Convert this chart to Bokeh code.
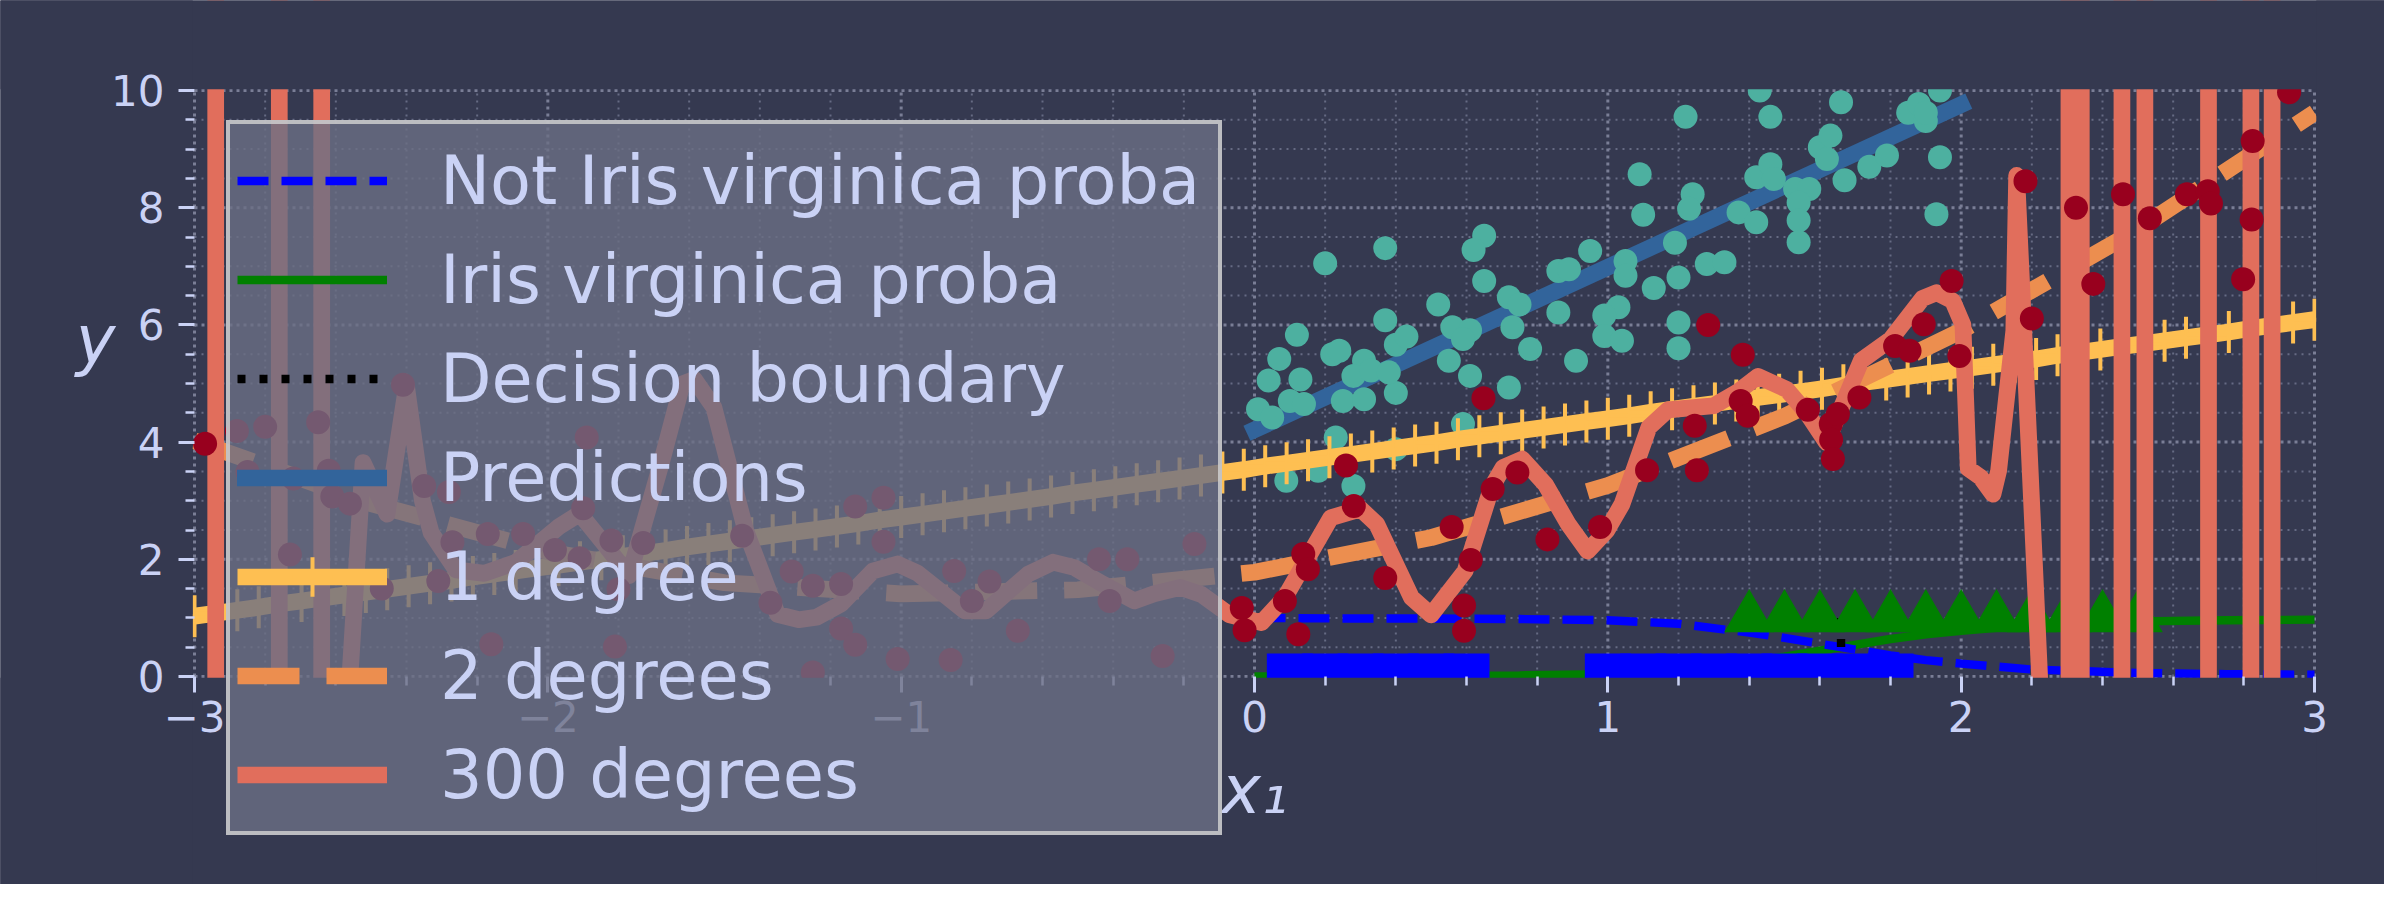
import numpy as np
from bokeh.plotting import figure
from bokeh.models import Range1d, FixedTicker, Legend, LegendItem, Label
from bokeh.embed import file_html
from bokeh.resources import INLINE

BG = "#353950"
FG = "#cad2f5"
FONT = "DejaVu Sans"

# --- logistic regression on petal width (iris) ---
proba_x = [0.0, 0.25, 0.5, 0.75, 1.0, 1.2, 1.4, 1.5, 1.6, 1.66, 1.8, 1.9, 2.0, 2.2, 2.5, 2.75, 3.0]
proba_virginica = [0.0, 0.01, 0.01, 0.02, 0.04, 0.10, 0.25, 0.34, 0.44, 0.50, 0.64, 0.72, 0.78, 0.88, 0.94, 0.96, 0.97]
proba_not_virginica = [1.0, 0.99, 0.99, 0.98, 0.96, 0.90, 0.75, 0.66, 0.56, 0.50, 0.36, 0.28, 0.22, 0.12, 0.06, 0.04, 0.03]
decision_boundary = 1.66
not_virginica_x = [0.1, 0.2, 0.3, 0.4, 0.5, 0.6, 1.0, 1.1, 1.2, 1.3, 1.4, 1.5, 1.6, 1.7, 1.8]
virginica_x = [1.4, 1.5, 1.6, 1.7, 1.8, 1.9, 2.0, 2.1, 2.2, 2.3, 2.4, 2.5]

# --- linear regression data + predictions ---
lin_x = [1.22, 1.09, 1.10, 1.24, 1.23, 1.19, 1.20, 1.13, 1.20, 1.20, 1.05, 1.05, 1.03, 0.99, 0.99,
         1.04, 0.95, 0.86, 0.89, 0.86, 0.91, 0.78, 0.73, 0.72, 0.75, 0.65, 0.65, 0.62, 0.52, 0.56,
         0.61, 0.59, 0.55, 0.37, 0.37, 0.40, 0.43, 0.20, 0.12, 0.07, 0.22, 0.24, 0.31,
         0.61, 0.72, 0.01, 0.05, 0.04, 0.13, 0.10, 0.14, 0.25, 0.31, 0.40, 0.28, 0.33, 0.38,
         0.59, 0.23, 1.28, 1.33,
         1.43, 1.46, 1.66, 1.94, 1.42, 1.46, 1.47, 1.53, 1.57, 1.54, 1.54, 1.54, 1.37, 1.42,
         1.60, 1.63, 1.62, 1.67, 1.74, 1.79, 1.85, 1.88, 1.90, 1.90, 1.94, 1.93,
         0.09, 0.18, 0.28, 0.40]
lin_y = [9.55, 8.57, 7.88, 8.23, 7.98, 7.40, 6.81, 6.63, 6.04, 5.60, 7.09, 6.84, 6.30, 6.16, 5.81,
         5.73, 7.26, 6.92, 6.95, 6.21, 5.39, 5.59, 5.96, 6.47, 6.35, 6.75, 7.52, 7.28, 6.35, 5.96,
         5.91, 5.76, 5.39, 7.31, 6.08, 5.66, 5.80, 7.05, 5.83, 5.42, 5.50, 5.56, 5.39,
         5.13, 4.93, 4.56, 4.42, 5.05, 5.07, 4.70, 4.65, 4.70, 4.73, 4.84, 5.13, 5.22, 5.19,
         4.31, 4.08, 7.04, 7.07,
         10.0, 9.55, 9.80, 10.0, 8.52, 8.74, 8.49, 8.32, 8.32, 8.09, 7.78, 7.41, 7.92, 7.75,
         9.03, 9.23, 8.83, 8.47, 8.70, 8.89, 9.62, 9.77, 9.48, 9.62, 8.86, 7.89,
         3.34, 3.51, 3.25, 3.88]
pred_x = [0.0, 2.0]
pred_y = [4.21, 9.76]

# --- polynomial regression data ---
quad_x = [-2.97, -2.88, -2.80, -2.65, -2.85, -2.72, -2.62, -2.61, -2.56, -2.41, -2.73, -2.47, -2.35,
          -2.28, -2.31, -2.27, -2.17, -2.07, -1.98, -1.91, -1.90, -1.89, -1.82, -1.73, -1.80, -2.16,
          -1.81, -1.45, -1.37, -1.31, -1.25, -1.17, -1.17, -1.13, -1.13, -1.05, -1.05, -1.25, -1.01,
          -0.86, -0.85, -0.75, -0.80, -0.67, -0.44, -0.36, -0.41, -0.26, -0.17,
          -0.036, -0.028, 0.086, 0.124, 0.138, 0.151, 0.259, 0.281, 0.370, 0.558, 0.612, 0.593,
          0.593, 0.648, 0.674, 0.744, 0.829, 0.978, 1.111, 1.246, 1.252, 1.382, 1.376, 1.396,
          1.284, 1.566, 1.631, 1.651, 1.632, 1.637, 1.712, 1.813, 1.854, 1.894, 1.973, 1.995,
          2.20, 2.374, 2.182, 2.325, 2.458, 2.534, 2.639, 2.698, 2.707, 2.825, 2.822, 2.798, 2.928]
quad_y = [3.97, 4.19, 4.26, 4.34, 3.49, 3.38, 3.51, 3.07, 2.95, 4.98, 2.08, 1.50, 3.25,
          3.15, 1.63, 2.29, 2.43, 2.43, 2.16, 2.02, 2.87, 4.08, 2.32, 2.28, 1.49, 0.55,
          0.51, 2.40, 1.26, 1.79, 1.55, 1.58, 0.82, 0.54, 2.90, 3.05, 2.30, 0.07, 0.30,
          0.28, 1.80, 1.62, 1.29, 0.78, 2.00, 2.00, 1.29, 0.35, 2.26,
          1.17, 0.79, 1.29, 0.72, 2.09, 1.83, 3.60, 2.91, 1.68, 2.55, 1.99, 1.21,
          0.78, 4.75, 3.20, 3.48, 2.34, 2.55, 3.52, 4.28, 3.52, 5.49, 4.70, 4.45,
          6.00, 4.55, 4.31, 4.48, 4.04, 3.71, 4.76, 5.64, 5.56, 6.01, 6.75, 5.47,
          6.11, 6.70, 8.45, 8.00, 8.23, 7.82, 8.23, 8.28, 8.07, 9.14, 7.80, 6.78, 9.97]

x_new = np.linspace(-3, 3, 100)
deg1_y = [1.03, 1.08, 1.13, 1.18, 1.24, 1.29, 1.34, 1.39, 1.44, 1.49,
          1.54, 1.59, 1.64, 1.70, 1.75, 1.80, 1.85, 1.90, 1.95, 2.00,
          2.05, 2.10, 2.15, 2.21, 2.26, 2.31, 2.36, 2.41, 2.46, 2.51,
          2.56, 2.61, 2.67, 2.72, 2.77, 2.82, 2.87, 2.92, 2.97, 3.02,
          3.07, 3.13, 3.18, 3.23, 3.28, 3.33, 3.38, 3.43, 3.48, 3.53,
          3.59, 3.64, 3.69, 3.74, 3.79, 3.84, 3.89, 3.94, 3.99, 4.05,
          4.10, 4.15, 4.20, 4.25, 4.30, 4.35, 4.40, 4.45, 4.51, 4.56,
          4.61, 4.66, 4.71, 4.76, 4.81, 4.86, 4.91, 4.97, 5.02, 5.07,
          5.12, 5.17, 5.22, 5.27, 5.32, 5.37, 5.42, 5.48, 5.53, 5.58,
          5.63, 5.68, 5.73, 5.78, 5.83, 5.88, 5.94, 5.99, 6.04, 6.09]

deg2_x = [-3.0, -2.5, -2.0, -1.5, -1.0, -0.5, 0.0, 0.5, 1.0, 1.5, 2.0, 2.5, 3.0]
deg2_y = [4.02, 2.95, 2.13, 1.60, 1.41, 1.48, 1.78, 2.37, 3.26, 4.44, 5.90, 7.63, 9.62]

deg300_x = [-2.94, -2.94, -2.76, -2.76, -2.64, -2.64, -2.575, -2.56, -2.523, -2.455, -2.40, -2.355, -2.33,
            -2.26, -2.18, -2.09, -1.97, -1.91, -1.84, -1.77, -1.68, -1.62, -1.585, -1.53, -1.44, -1.35,
            -1.29, -1.24, -1.17, -1.08, -1.01, -0.955, -0.82, -0.76, -0.64, -0.57, -0.51, -0.43, -0.34,
            -0.285, -0.21, -0.15, -0.07, 0.02, 0.086, 0.151, 0.216, 0.30, 0.346, 0.444, 0.50, 0.596,
            0.671, 0.704, 0.758, 0.823, 0.888, 0.943, 0.997, 1.04, 1.116, 1.17, 1.30, 1.366, 1.425,
            1.506, 1.565, 1.619, 1.717, 1.80, 1.89, 1.93, 1.976, 2.005, 2.02, 2.055, 2.09, 2.106, 2.149,
            2.157, 2.222, 2.225, 2.305, 2.305, 2.34, 2.34, 2.455, 2.455, 2.52, 2.52, 2.70, 2.70, 2.82,
            2.82, 2.88, 2.88, 3.0]
deg300_y = [60, -60, -60, 60, 60, -60, -60, 0.0, 3.65, 2.77, 4.95, 3.0, 2.45,
            1.82, 1.76, 1.95, 2.55, 2.78, 2.26, 1.72, 3.62, 4.99, 5.07, 4.59, 2.49, 1.06,
            0.97, 1.01, 1.24, 1.80, 1.92, 1.77, 1.12, 1.12, 1.75, 1.95, 1.86, 1.58, 1.29,
            1.41, 1.52, 1.40, 1.05, 0.92, 1.35, 2.03, 2.71, 2.86, 2.60, 1.35, 1.05, 1.80,
            3.23, 3.57, 3.71, 3.28, 2.60, 2.14, 2.49, 2.94, 4.25, 4.55, 4.62, 4.85, 5.12,
            4.90, 4.48, 3.99, 5.39, 5.75, 6.45, 6.55, 6.41, 6.0, 3.55, 3.40, 3.11, 3.51, 5.90,
            8.55, 0.0, -60, -60, 60, 60, -60, -60, 60, 60, -60, -60, 60, 60,
            -60, -60, 60, 60]

# axes ticks
x_major = [-3, -2, -1, 0, 1, 2, 3]
x_minor = [round(-3 + 0.2 * k, 1) for k in range(31) if k % 5]
y_major = [0, 2, 4, 6, 8, 10]
y_minor = [0.5 * k for k in range(21) if k % 4]

# the frame covers the whole canvas so the legend (which overhangs the axes) is not clipped;
# the data box [-3, 3] x [0, 10] sits at pixels x 194..2314, y 90..676
W, H = 2384, 884
PX_X = 2120 / 6.0
PX_Y = 586 / 10.0
x0 = -3 - 194 / PX_X
x1 = 3 + (W - 2314) / PX_X
y1 = 10 + 90 / PX_Y
y0 = -(H - 676) / PX_Y

p = figure(width=W, height=H, output_backend="svg", toolbar_location=None,
           x_range=Range1d(x0, x1), y_range=Range1d(y0, y1), min_border=0)
p.background_fill_color = BG
p.border_fill_color = BG
p.outline_line_color = None
p.xgrid.visible = False
p.ygrid.visible = False

p.xaxis.fixed_location = 0
p.yaxis.fixed_location = -3
p.xaxis.ticker = FixedTicker(ticks=x_major, minor_ticks=x_minor)
p.yaxis.ticker = FixedTicker(ticks=y_major, minor_ticks=y_minor)
p.xaxis.major_label_overrides = {-3: "\u22123", -2: "\u22122", -1: "\u22121"}

for ax in (p.xaxis, p.yaxis):
    ax.axis_line_color = None
    ax.major_tick_line_color = FG
    ax.minor_tick_line_color = FG
    ax.major_tick_line_width = 3
    ax.minor_tick_line_width = 2.5
    ax.major_tick_in = 0
    ax.major_tick_out = 16
    ax.minor_tick_in = 0
    ax.minor_tick_out = 9
    ax.major_label_text_color = FG
    ax.major_label_text_font = FONT
    ax.major_label_text_font_size = "42px"
p.xaxis.major_label_standoff = 8
p.yaxis.major_label_standoff = 14

# dotted grid, limited to the data box
p.segment(x0=x_minor, y0=0, x1=x_minor, y1=10, line_color="#666b83", line_width=2,
          line_dash="2 5", level="underlay")
p.segment(x0=-3, y0=y_minor, x1=3, y1=y_minor, line_color="#666b83",
          line_width=2, line_dash="2 5", level="underlay")
p.segment(x0=x_major, y0=0, x1=x_major, y1=10, line_color="#7a7e96", line_width=3,
          line_dash="3 4", level="underlay")
p.segment(x0=-3, y0=y_major, x1=3, y1=y_major, line_color="#7a7e96", line_width=3,
          line_dash="3 4", level="underlay")

# logistic regression
r_green = p.line(proba_x, proba_virginica, line_color="green", line_width=8.4)
r_bdash = p.line(proba_x, proba_not_virginica, line_color="blue", line_width=8.4, line_dash="31 13")
r_bound = p.line([decision_boundary, decision_boundary], [-1, 1], line_color="black",
                 line_width=8.4, line_dash="8 14")
p.scatter(not_virginica_x, [0] * len(not_virginica_x), marker="square", size=46,
          fill_color="blue", line_color=None)
p.scatter(virginica_x, [1] * len(virginica_x), marker="triangle", size=50,
          fill_color="green", line_color=None)

# linear regression
r_pred = p.line(pred_x, pred_y, line_color="#32649b", line_width=16.7, line_cap="square")
p.scatter(lin_x, lin_y, size=24, fill_color="#4db0a0", line_color=None)

# polynomial regression
r_d1 = p.line(x_new, deg1_y, line_color="#febf52", line_width=16.7)
r_d1m = p.scatter(x_new, deg1_y, marker="cross", size=42, line_color="#febf52", line_width=4)
r_d2 = p.line(deg2_x, deg2_y, line_color="#ec8e4f", line_width=16.7, line_dash="62 27")
r_d300 = p.line(deg300_x, deg300_y, line_color="#e16e5c", line_width=16.7, line_join="round")
p.scatter(quad_x, quad_y, size=24, fill_color="#98001e", line_color=None)

# hide everything drawn outside the data box
p.quad(left=[-5, -5, -5, 3.005], right=[5, 5, -3.005, 5],
       bottom=[-6, 10.02, -6, -6], top=[-0.02, 14, 14, 14],
       fill_color=BG, line_color=None)

lab_style = dict(text_font=FONT, text_font_size="67px", text_font_style="italic",
                 text_color=FG, text_align="center", text_baseline="alphabetic")
p.add_layout(Label(x=0.0, y=-1.94, text="x\u2081", **lab_style))
p.add_layout(Label(x=-3.28, y=5.74, text="y", **lab_style))

legend = Legend(items=[
    LegendItem(label="Not Iris virginica proba", renderers=[r_bdash]),
    LegendItem(label="Iris virginica proba", renderers=[r_green]),
    LegendItem(label="Decision boundary", renderers=[r_bound]),
    LegendItem(label="Predictions", renderers=[r_pred]),
    LegendItem(label="1 degree", renderers=[r_d1, r_d1m]),
    LegendItem(label="2 degrees", renderers=[r_d2]),
    LegendItem(label="300 degrees", renderers=[r_d300]),
], location=(226, H - 122 - 713), margin=0, padding=7, spacing=0,
    glyph_width=150, glyph_height=99, label_standoff=53, label_width=771,
    label_text_font=FONT, label_text_font_size="67px", label_text_color=FG,
    background_fill_color="#6b6f85", background_fill_alpha=0.8,
    border_line_color="#d3d3d3", border_line_alpha=0.8, border_line_width=4)
p.add_layout(legend)

open("out.html", "w").write(file_html(p, INLINE))
